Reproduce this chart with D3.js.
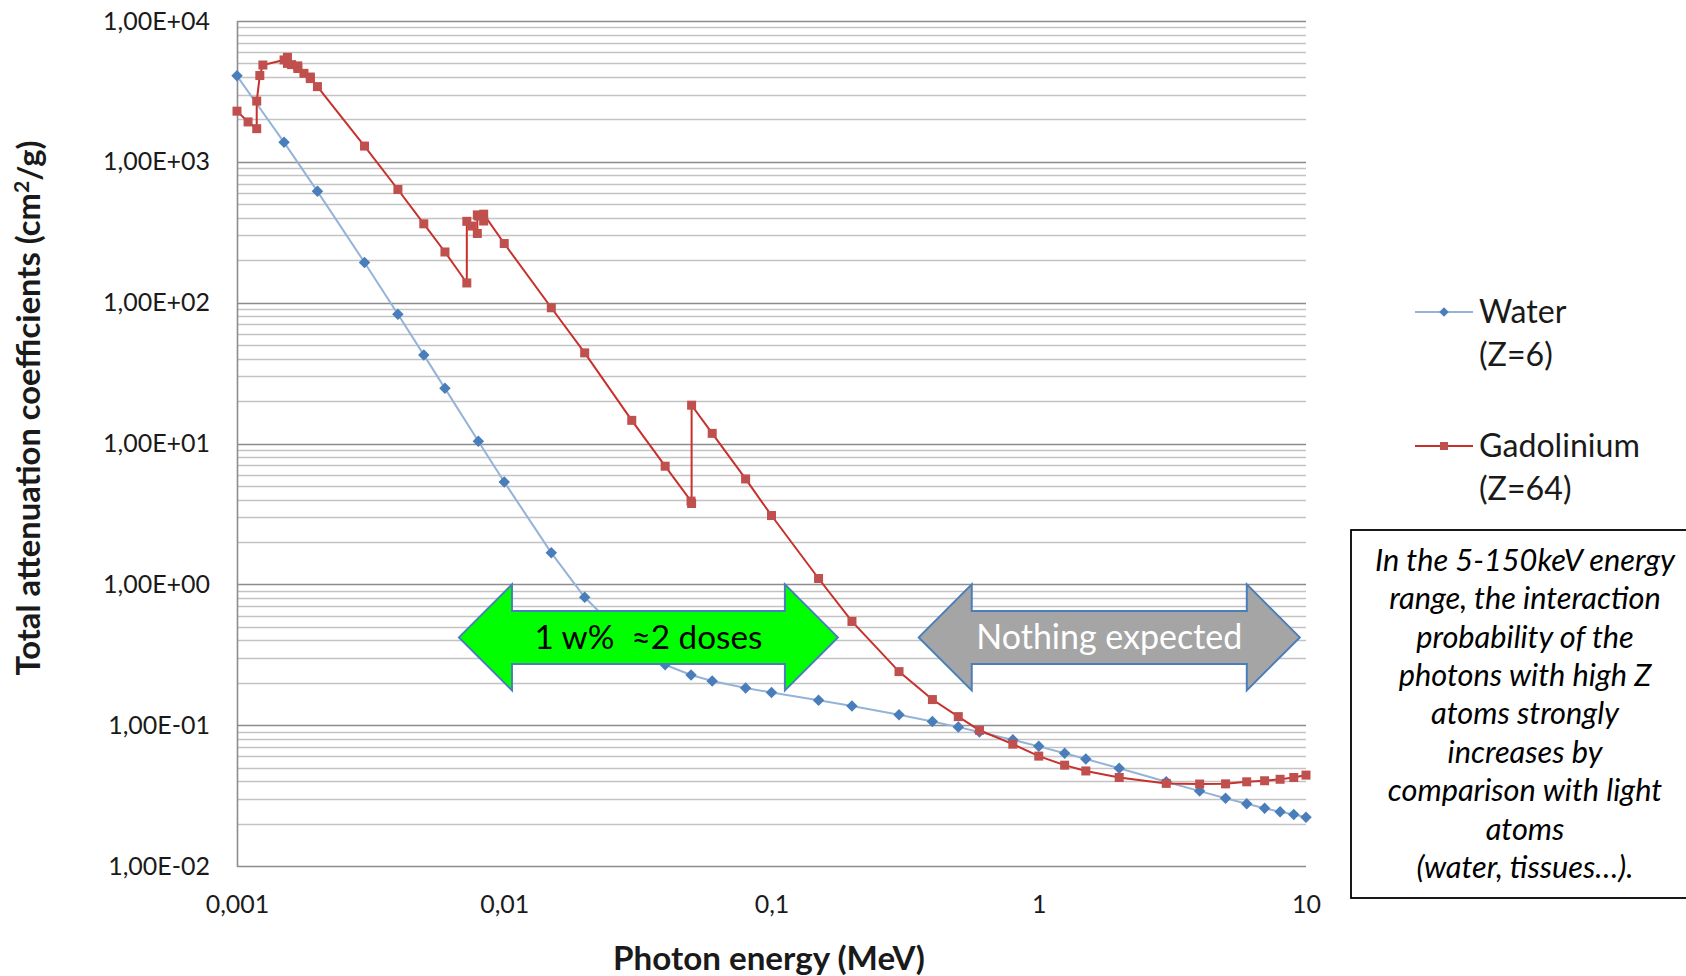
<!DOCTYPE html>
<html>
<head>
<meta charset="utf-8">
<script src="https://cdn.jsdelivr.net/npm/d3@7"></script>
<style>
  body { margin: 0; background: #fff; }
  svg { display: block; font-family: Lato, "Open Sans", sans-serif; }
</style>
</head>
<body>
<svg id="chart" width="1686" height="976"></svg>
<script>
// photon energy in MeV, mass attenuation in cm2/g
const waterEnergy = [0.001, 0.0015, 0.002, 0.003, 0.004, 0.005, 0.006, 0.008, 0.01, 0.015, 0.02, 0.03,
  0.04, 0.05, 0.06, 0.08, 0.1, 0.15, 0.2, 0.3, 0.4, 0.5, 0.6, 0.8, 1, 1.25, 1.5, 2, 3, 4, 5, 6, 7, 8, 9, 10];
const waterValue = [4078, 1376, 617.3, 192.9, 82.78, 42.58, 24.64, 10.37, 5.329, 1.673, 0.8096, 0.3756,
  0.2683, 0.2269, 0.2059, 0.1837, 0.1707, 0.1505, 0.137, 0.1186, 0.1061, 0.09687, 0.08956, 0.07865,
  0.07072, 0.06323, 0.05754, 0.04942, 0.03969, 0.03403, 0.03031, 0.0277, 0.0257, 0.02429, 0.0232, 0.02219];

const gdEnergy = [0.001, 0.0011, 0.0011852, 0.0011852, 0.0012172, 0.00125, 0.0015, 0.001544, 0.001544,
  0.0016, 0.0016883, 0.0016883, 0.00178, 0.0018808, 0.0018808, 0.002, 0.003, 0.004, 0.005, 0.006,
  0.0072428, 0.0072428, 0.00758, 0.0079303, 0.0079303, 0.008, 0.0083756, 0.0083756, 0.01, 0.015, 0.02,
  0.03, 0.04, 0.05, 0.0502391, 0.0502391, 0.06, 0.08, 0.1, 0.15, 0.2, 0.3, 0.4, 0.5, 0.6, 0.8, 1, 1.25,
  1.5, 2, 3, 4, 5, 6, 7, 8, 9, 10];
const gdValue = [2290, 1920, 1720, 2700, 4100, 4870, 5290, 5000, 5520,
  4900, 4600, 4800, 4250, 3900, 4000, 3420, 1294, 636, 363, 229,
  138, 378, 350, 310, 420, 412, 380, 425, 263, 92, 44,
  14.6, 6.9, 3.9, 3.75, 18.7, 11.8, 5.6, 3.08, 1.1, 0.545, 0.24, 0.152, 0.115, 0.092, 0.0733, 0.0603, 0.052,
  0.0473, 0.0425, 0.0386, 0.0382, 0.0383, 0.0396, 0.0403, 0.0413, 0.0425, 0.0442];

const xTicks = [0.001, 0.01, 0.1, 1, 10];
const xTickLabels = ["0,001", "0,01", "0,1", "1", "10"];
const yTicks = [0.01, 0.1, 1, 10, 100, 1000, 10000];
const yTickLabels = ["1,00E-02", "1,00E-01", "1,00E+00", "1,00E+01", "1,00E+02", "1,00E+03", "1,00E+04"];

const seriesNames = ["Water", "Gadolinium"];
const seriesSubNames = ["(Z=6)", "(Z=64)"];

const noteLines = ["In the 5-150keV energy", "range, the interaction", "probability of the",
  "photons with high Z", "atoms strongly", "increases by", "comparison with light", "atoms",
  "(water, tissues\u2026)."];

// energy spans of the two annotation arrows
const greenSpan = [0.00677, 0.1772];
const greySpan = [0.3556, 9.48];
const arrowLevel = 0.42;

const svg = d3.select("#chart");
const plotLeft = 237, plotRight = 1306, plotTop = 21, plotBottom = 866;

const x = d3.scaleLog().domain([0.001, 10]).range([plotLeft, plotRight]);
const y = d3.scaleLog().domain([0.01, 10000]).range([plotBottom, plotTop]);

function fitWidth(sel, target) {
  const w = sel.node().getComputedTextLength();
  const fs = parseFloat(sel.attr("font-size"));
  const nfs = fs * target / w;
  sel.attr("font-size", nfs);
  return nfs;
}

// gridlines: minor then major
const minor = [];
for (let k = -2; k < 4; k++) {
  for (let m = 2; m < 10; m++) minor.push(m * Math.pow(10, k));
}
svg.append("g")
  .selectAll("line")
  .data(minor)
  .enter().append("line")
  .attr("x1", plotLeft).attr("x2", plotRight)
  .attr("y1", d => Math.round(y(d)) + 0.5).attr("y2", d => Math.round(y(d)) + 0.5)
  .attr("stroke", "#c3c3c3")
  .attr("stroke-width", 1.6);

svg.append("g")
  .selectAll("line")
  .data(yTicks)
  .enter().append("line")
  .attr("x1", plotLeft).attr("x2", plotRight)
  .attr("y1", d => Math.round(y(d)) + 0.5).attr("y2", d => Math.round(y(d)) + 0.5)
  .attr("stroke", "#8c8c8c")
  .attr("stroke-width", 1.6);

// left axis line
svg.append("line")
  .attr("x1", plotLeft + 0.5).attr("x2", plotLeft + 0.5)
  .attr("y1", plotTop).attr("y2", plotBottom + 1)
  .attr("stroke", "#8c8c8c").attr("stroke-width", 1.6);

// y axis labels
const yAxis = svg.append("g")
  .attr("transform", `translate(${plotLeft},0)`)
  .call(d3.axisLeft(y).tickValues(yTicks).tickFormat((d, i) => yTickLabels[i]).tickSize(0).tickPadding(27));
yAxis.select(".domain").remove();
yAxis.selectAll("text")
  .attr("font-family", "Lato, sans-serif")
  .attr("font-size", 19)
  .attr("fill", "#1a1a1a");
const tickFs = fitWidth(yAxis.selectAll("text").filter((d, i) => i === 6), 107);
yAxis.selectAll("text").attr("font-size", tickFs);

// x axis labels
const xAxis = svg.append("g")
  .attr("transform", `translate(0,${plotBottom})`)
  .call(d3.axisBottom(x).tickValues(xTicks).tickFormat((d, i) => xTickLabels[i]).tickSize(0));
xAxis.select(".domain").remove();
xAxis.selectAll("text")
  .attr("font-family", "Lato, sans-serif")
  .attr("font-size", tickFs)
  .attr("fill", "#1a1a1a")
  .attr("y", 38)
  .attr("dy", "0.35em");

// axis titles
const yTitle = svg.append("text")
  .attr("transform", "translate(29,408) rotate(-90)")
  .attr("text-anchor", "middle")
  .attr("dy", "0.35em")
  .attr("font-weight", "bold")
  .attr("font-size", 26)
  .attr("fill", "#1a1a1a");
yTitle.append("tspan").text("Total attenuation coefficients (cm");
yTitle.append("tspan").attr("font-size", "0.65em").attr("dy", "-0.55em").text("2");
yTitle.append("tspan").attr("dy", "0.36em").text("/g)");
fitWidth(yTitle, 535);

const xTitle = svg.append("text")
  .attr("x", 769).attr("y", 958)
  .attr("text-anchor", "middle")
  .attr("dy", "0.35em")
  .attr("font-weight", "bold")
  .attr("font-size", 26)
  .attr("fill", "#1a1a1a")
  .text("Photon energy (MeV)");
fitWidth(xTitle, 312);

// series
const water = waterEnergy.map((e, i) => [e, waterValue[i]]);
const gd = gdEnergy.map((e, i) => [e, gdValue[i]]);
const line = d3.line().x(d => x(d[0])).y(d => y(d[1]));

svg.append("path")
  .datum(water)
  .attr("d", line)
  .attr("fill", "none")
  .attr("stroke", "#95b3d7")
  .attr("stroke-width", 2);

svg.append("g")
  .selectAll("path")
  .data(water)
  .enter().append("path")
  .attr("d", d3.symbol(d3.symbolSquare, 66))
  .attr("transform", d => `translate(${x(d[0])},${y(d[1])}) rotate(45)`)
  .attr("fill", "#4a7ebb");

svg.append("path")
  .datum(gd)
  .attr("d", line)
  .attr("fill", "none")
  .attr("stroke", "#c8302c")
  .attr("stroke-width", 2);

svg.append("g")
  .selectAll("rect")
  .data(gd)
  .enter().append("rect")
  .attr("x", d => x(d[0]) - 4.5)
  .attr("y", d => y(d[1]) - 4.5)
  .attr("width", 9).attr("height", 9)
  .attr("fill", "#c0504d");

// double arrows
function doubleArrow(span, fill, stroke) {
  const x0 = x(span[0]), x1 = x(span[1]), yc = y(arrowLevel);
  const head = 53, outer = 53, inner = 26.5;
  const pts = [
    [x0, yc], [x0 + head, yc - outer], [x0 + head, yc - inner], [x1 - head, yc - inner],
    [x1 - head, yc - outer], [x1, yc], [x1 - head, yc + outer], [x1 - head, yc + inner],
    [x0 + head, yc + inner], [x0 + head, yc + outer]
  ];
  svg.append("path")
    .attr("d", d3.line()(pts) + "Z")
    .attr("fill", fill)
    .attr("stroke", stroke)
    .attr("stroke-width", 2)
    .attr("stroke-linejoin", "miter");
  return [(x0 + x1) / 2, yc];
}

const gc = doubleArrow(greenSpan, "#00ff00", "#4a7ebb");
const gText = svg.append("text")
  .attr("x", gc[0]).attr("y", gc[1])
  .attr("text-anchor", "middle").attr("dy", "0.35em")
  .attr("font-size", 32).attr("fill", "#000")
  .attr("xml:space", "preserve")
  .text("1 w%  \u22482 doses");
fitWidth(gText, 228);

const rc = doubleArrow(greySpan, "#a5a5a5", "#4a7ebb");
const rText = svg.append("text")
  .attr("x", rc[0]).attr("y", rc[1])
  .attr("text-anchor", "middle").attr("dy", "0.35em")
  .attr("font-size", 32).attr("fill", "#fff")
  .text("Nothing expected");
fitWidth(rText, 266);

// legend
const legendY = [312, 446];
const legend = svg.append("g");
legend.append("line")
  .attr("x1", 1415).attr("x2", 1473).attr("y1", legendY[0]).attr("y2", legendY[0])
  .attr("stroke", "#95b3d7").attr("stroke-width", 2);
legend.append("path")
  .attr("d", d3.symbol(d3.symbolSquare, 45))
  .attr("transform", `translate(1444,${legendY[0]}) rotate(45)`)
  .attr("fill", "#4a7ebb");
legend.append("line")
  .attr("x1", 1415).attr("x2", 1473).attr("y1", legendY[1]).attr("y2", legendY[1])
  .attr("stroke", "#c8302c").attr("stroke-width", 2);
legend.append("rect")
  .attr("x", 1440).attr("y", legendY[1] - 4).attr("width", 8).attr("height", 8)
  .attr("fill", "#c0504d");

let legendFs = 27;
seriesNames.forEach((name, i) => {
  const t = legend.append("text")
    .attr("x", 1479).attr("y", legendY[i])
    .attr("dy", "0.35em")
    .attr("font-size", 27).attr("fill", "#1a1a1a")
    .text(name);
  if (i === 1) legendFs = fitWidth(t, 161);
  legend.append("text")
    .attr("x", 1479).attr("y", legendY[i] + 43)
    .attr("dy", "0.35em")
    .attr("font-size", 27).attr("fill", "#1a1a1a")
    .text(seriesSubNames[i]);
});
legend.selectAll("text").attr("font-size", legendFs);

// note box
svg.append("rect")
  .attr("x", 1351).attr("y", 530)
  .attr("width", 360).attr("height", 368)
  .attr("fill", "#fff")
  .attr("stroke", "#000").attr("stroke-width", 1.8);

const note = svg.append("g");
note.selectAll("text")
  .data(noteLines)
  .enter().append("text")
  .attr("x", 1525)
  .attr("y", (d, i) => 560 + i * 38.4)
  .attr("text-anchor", "middle")
  .attr("dy", "0.35em")
  .attr("font-style", "italic")
  .attr("font-size", 26)
  .attr("fill", "#000")
  .text(d => d);
const noteFs = fitWidth(note.select("text"), 300);
note.selectAll("text").attr("font-size", noteFs);
</script>
</body>
</html>
